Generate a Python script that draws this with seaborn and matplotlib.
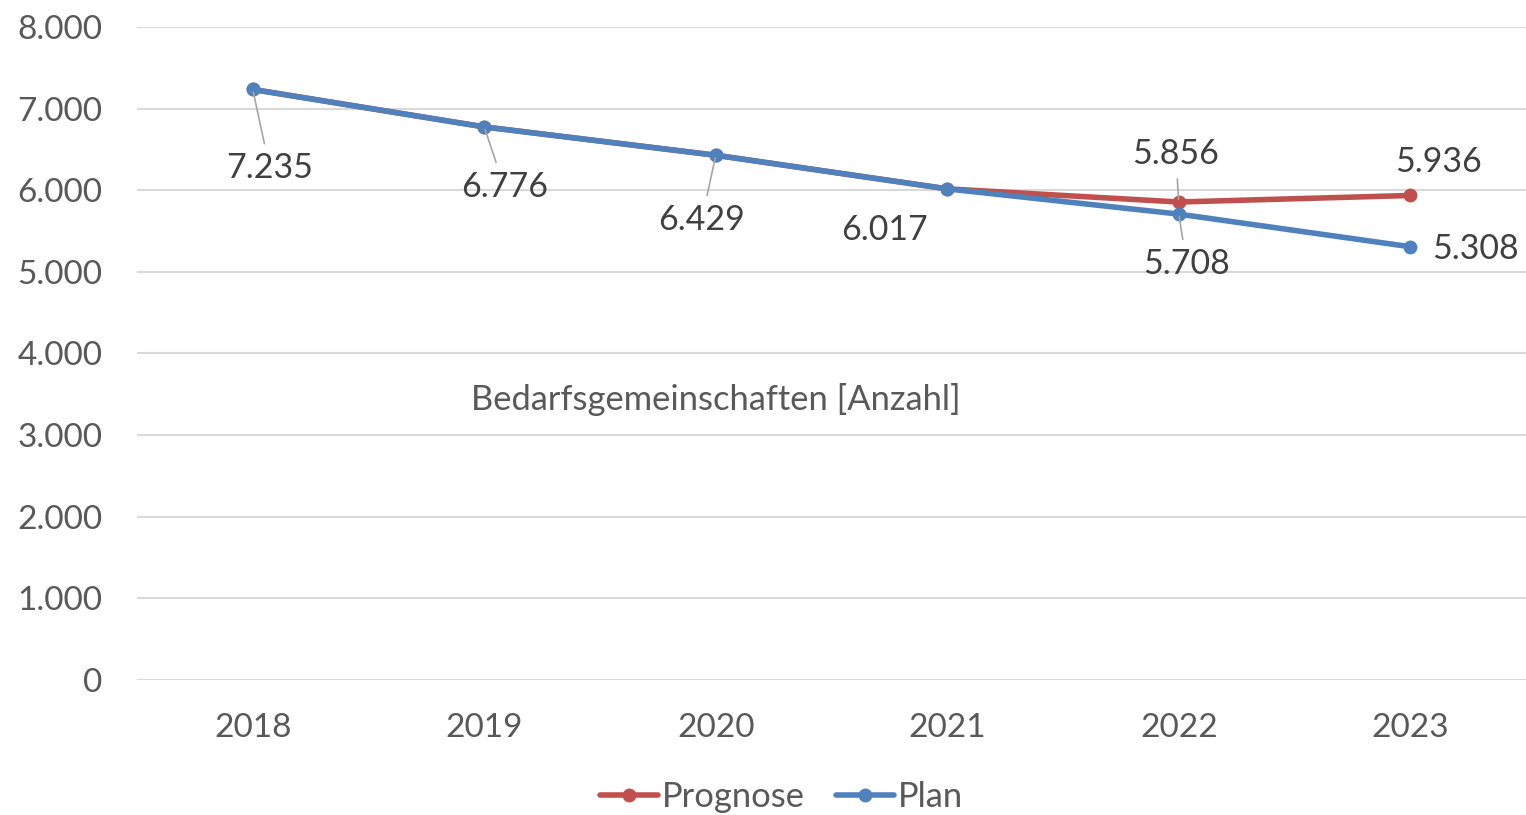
import numpy as np
import pandas as pd
import seaborn as sns
import matplotlib.pyplot as plt
import matplotlib.ticker as ticker

years = ["2018", "2019", "2020", "2021", "2022", "2023"]
prognose = [7235, 6776, 6429, 6017, 5856, 5936]
plan = [7235, 6776, 6429, 6017, 5708, 5308]

# label offsets in pixels (dx, dy) and whether a leader line is drawn
plan_offsets = [(17, -79), (20, -60), (-14, -65), (-63, -41), (8, -50), (65, -2)]
plan_leader = [True, True, True, False, True, False]
prog_offsets = {4: (-3, 48), 5: (28, 33)}
prog_leader = {4: True, 5: False}

red = "#C0504D"
blue = "#4F81BD"
txt = "#404040"

df = pd.concat([
    pd.DataFrame({"Jahr": years, "Wert": prognose, "Serie": "Prognose"}),
    pd.DataFrame({"Jahr": years, "Wert": plan, "Serie": "Plan"}),
])

sns.set_theme(style="white")
plt.rcParams["font.family"] = ["Lato", "DejaVu Sans"]

fig = plt.figure(figsize=(15.26, 8.15), dpi=100)
ax = fig.add_axes([137 / 1526, 1 - 680 / 815, 1 - 137 / 1526, 653 / 815])

sns.lineplot(data=df, x="Jahr", y="Wert", hue="Serie", hue_order=["Prognose", "Plan"],
             palette={"Prognose": red, "Plan": blue}, marker="o", markersize=10,
             markeredgewidth=0, linewidth=4, sort=False, ax=ax, legend=True)

ax.set_xlim(-0.5, 5.5)
ax.set_ylim(0, 8000)
ax.yaxis.set_major_locator(ticker.MultipleLocator(1000))
ax.yaxis.set_major_formatter(ticker.FuncFormatter(lambda v, p: f"{int(v):,}".replace(",", ".")))
ax.grid(axis="y", color="#D9D9D9", linewidth=1.5)
ax.set_axisbelow(True)
for s in ax.spines.values():
    s.set_visible(False)
ax.tick_params(axis="both", length=0, labelsize=24, colors="#595959")
ax.tick_params(axis="y", pad=25)
ax.tick_params(axis="x", pad=24)
ax.set_xlabel("")
ax.set_ylabel("")

def label(i, v, off, leader):
    ap = dict(arrowstyle="-", color="#A6A6A6", lw=1.2, shrinkA=4, shrinkB=2) if leader else None
    ax.annotate(f"{v:,}".replace(",", "."), xy=(i, v), xytext=off, textcoords="offset pixels",
                ha="center", va="center", fontsize=24.5, color=txt, arrowprops=ap)

for i, v in enumerate(plan):
    label(i, v, plan_offsets[i], plan_leader[i])
for i, off in prog_offsets.items():
    label(i, prognose[i], off, prog_leader[i])

ax.text(0.417, 0.429, "Bedarfsgemeinschaften [Anzahl]", transform=ax.transAxes,
        ha="center", va="center", fontsize=24.8, color="#595959")

handles, labels = ax.get_legend_handles_labels()
ax.legend_.remove()
fig.legend(handles, labels, loc="center", bbox_to_anchor=(0.512, 1 - 797 / 815), ncol=2,
           frameon=False, fontsize=24.8, labelcolor="#595959", handlelength=1.7,
           handletextpad=0.1, columnspacing=0.9)

fig.savefig("out.png", dpi=100)
